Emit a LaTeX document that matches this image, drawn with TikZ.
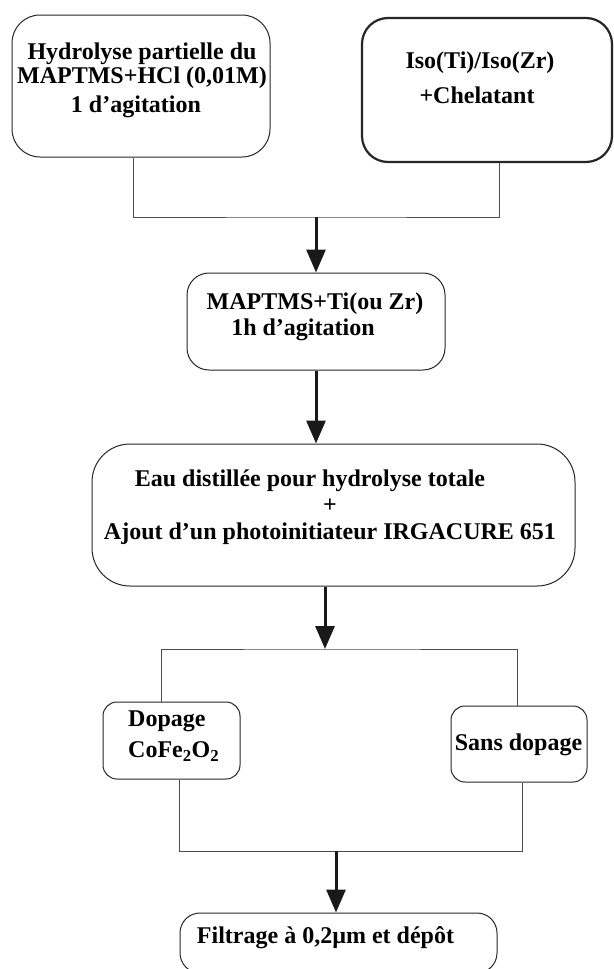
\documentclass[tikz,border=0pt]{standalone}
\usepackage{fontspec}
\setmainfont{Liberation Serif}
\usetikzlibrary{arrows.meta}

\begin{document}
\begin{tikzpicture}[x=1pt, y=-1pt,
  box/.style={draw=black!85, rounded corners=#1, inner sep=0pt, line width=1pt},
  box/.default=20pt,
  txt/.style={font=\fontsize{24}{24}\selectfont\bfseries, inner sep=0pt, align=center},
  link/.style={draw=black!70, line width=1pt},
  flow/.style={draw=black!90, line width=3pt, -{Triangle[length=23pt,width=19pt]}}]
  % page frame, same proportions as the reference
  \useasboundingbox (0,0) rectangle (613,969);
  % boxes
  \node[box=28pt, minimum width=258pt, minimum height=142pt] (hydro) at (141,86) {};
  \node[box=26pt, line width=2.2pt, minimum width=250pt, minimum height=144pt] (iso) at (487,90) {};
  \node[box=22pt, minimum width=258pt, minimum height=97pt] (maptms) at (316,321.5) {};
  \node[box=38pt, minimum width=483pt, minimum height=142pt] (eau) at (333.5,515) {};
  \node[box=14pt, minimum width=137pt, minimum height=77pt] (dop) at (171.5,740.5) {};
  \node[box=14pt, minimum width=136pt, minimum height=76pt] (sans) at (519,744) {};
  \node[box=20pt, minimum width=317pt, minimum height=60pt] (filt) at (338.5,943) {};
  % texts
  \node[txt, anchor=north] (hydrotxt) at (142,42.5)
    {Hydrolyse partielle du\\ MAPTMS+HCl (0,01M)\\[5pt] 1 d’agitation\hspace*{12pt}};
  \node[txt, anchor=north] (isotxt) at (480,51.5)
    {Iso(Ti)/Iso(Zr)\\[11pt] +Chelatant\hspace*{6pt}};
  \node[txt, anchor=north] (maptmstxt) at (315,292.5)
    {MAPTMS+Ti(ou Zr)\\[2pt] 1h d’agitation\hspace*{24pt}};
  \node[txt, anchor=north] (eautxt) at (330,469.5)
    {Eau distillée pour hydrolyse totale\hspace*{40pt}\\[2pt]
     +\hspace*{90pt}\\[3pt] Ajout d’un photoinitiateur IRGACURE 651};
  \node[txt, align=left, anchor=north west] (doptxt) at (128,710.5)
    {Dopage\\[7pt] CoFe\textsubscript{2}O\textsubscript{2}};
  \node[txt, anchor=base] (sanstxt) at (518.5,750) {Sans dopage};
  \node[txt, anchor=base] (filttxt) at (325.5,943) {Filtrage à 0,2µm et dépôt};
  % joins
  \coordinate (mix) at (316,217);
  \coordinate (split) at (325,649);
  \coordinate (merge) at (336,851);
  % connectors
  \draw[link] ([xshift=-8pt]hydro.south) |- (mix) -| ([xshift=12pt]iso.south);
  \draw[flow] (mix) -- (maptms.north);
  \draw[flow] (maptms.south) -- (maptms.south |- eau.north);
  \draw[flow] ([xshift=-8.5pt]eau.south) -- (split);
  \draw[link] ([xshift=-10.5pt]dop.north) |- (split) -| ([xshift=-2pt]sans.north);
  \draw[link] ([xshift=7.5pt]dop.south) |- (merge) -| ([xshift=3pt]sans.south);
  \draw[flow] (merge) -- (merge |- filt.north);
\end{tikzpicture}
\end{document}
